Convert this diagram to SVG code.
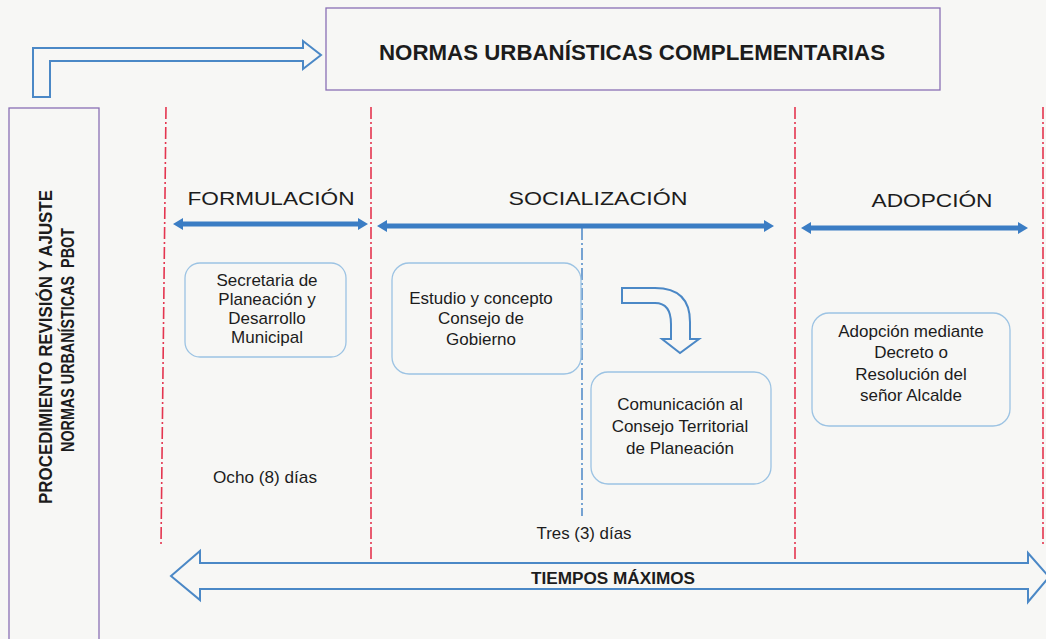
<svg xmlns="http://www.w3.org/2000/svg" width="1046" height="639" viewBox="0 0 1046 639">
<style>
.bg{fill:#f7f7f5}
.frame{fill:none;stroke:#8a70b4;stroke-width:1.3}
.box{fill:none;stroke:#9cc3e3;stroke-width:1.3}
.red{stroke:#e4354f;stroke-width:1.6;stroke-dasharray:12 3 2 3;fill:none}
.bdash{stroke:#3f7fc4;stroke-width:1.4;stroke-dasharray:12 3 2 3;fill:none}
.thick{fill:#3b7dc4}
.outl{fill:none;stroke:#4b88c6;stroke-width:2;stroke-linejoin:miter}
.t{font-family:"Liberation Sans",Arial,sans-serif;fill:#1c1c1c;text-anchor:middle}
.bx{font-size:17px}
.ph{font-size:18px}
.b{font-weight:bold}
</style>
<rect class="bg" x="0" y="0" width="1046" height="639"/>

<g id="title">
  <rect class="frame" x="326" y="8" width="614" height="82"/>
  <text class="t b" font-size="22" x="632" y="60" textLength="506" lengthAdjust="spacingAndGlyphs">NORMAS URBANÍSTICAS COMPLEMENTARIAS</text>
</g>

<g id="side-label">
  <rect class="frame" x="9" y="108" width="90" height="545"/>
  <text class="t b" font-size="19" transform="translate(52,347) rotate(-90) scale(0.89,1)">PROCEDIMIENTO REVISIÓN Y AJUSTE</text>
  <text class="t b" font-size="19" transform="translate(74,340) rotate(-90) scale(0.755,1)" xml:space="preserve">NORMAS URBANÍSTICAS  PBOT</text>
</g>

<g id="dividers">
  <line class="red" x1="166" y1="107" x2="161" y2="545"/>
  <line class="red" x1="371" y1="107" x2="371" y2="563"/>
  <line class="red" x1="795" y1="107" x2="795" y2="563"/>
  <line class="red" x1="1043" y1="107" x2="1043" y2="547"/>
  <line class="bdash" x1="582" y1="228" x2="582" y2="516"/>
</g>

<g id="phase-formulacion">
  <text class="t ph" x="271" y="205" textLength="167" lengthAdjust="spacingAndGlyphs">FORMULACIÓN</text>
</g>
<g id="phase-socializacion">
  <text class="t ph" x="598" y="205" textLength="179" lengthAdjust="spacingAndGlyphs">SOCIALIZACIÓN</text>
</g>
<g id="phase-adopcion">
  <text class="t ph" x="932" y="207" textLength="121" lengthAdjust="spacingAndGlyphs">ADOPCIÓN</text>
</g>

<g id="connectors">
  <path class="outl" d="M33,97 L33,48 L303,48 L303,41 L321,55 L303,69 L303,61 L50,61 L50,97 Z"/>
  <path class="thick" d="M173,224 L183,218 L183,221.5 L358,221.5 L358,218 L368,224 L358,230 L358,226.5 L183,226.5 L183,230 Z"/>
  <path class="thick" d="M377,226 L387,220 L387,223.5 L764,223.5 L764,220 L774,226 L764,232 L764,228.5 L387,228.5 L387,232 Z"/>
  <path class="thick" d="M801,228 L811,222 L811,225.5 L1018,225.5 L1018,222 L1028,228 L1018,234 L1018,230.5 L811,230.5 L811,234 Z"/>
  <path class="outl" d="M622,288 L655,288 Q690,288 690,322 L690,339 L699,339 L680,353 L662,339 L671,339 L671,324 Q671,303 655,303 L622,303 Z"/>
  <path class="outl" d="M171,576 L200,551 L200,563 L1028,563 L1028,553 L1049,577 L1028,602 L1028,589 L200,589 L200,600 Z"/>
</g>

<g id="node-secretaria">
  <rect class="box" x="185" y="263" width="161" height="94" rx="15"/>
  <text class="t bx" x="267" y="286">Secretaria de</text>
  <text class="t bx" x="267" y="305">Planeación y</text>
  <text class="t bx" x="267" y="324">Desarrollo</text>
  <text class="t bx" x="267" y="343">Municipal</text>
</g>

<g id="node-estudio">
  <rect class="box" x="392" y="263" width="189" height="111" rx="17"/>
  <text class="t bx" x="481" y="304">Estudio y concepto</text>
  <text class="t bx" x="481" y="324">Consejo de</text>
  <text class="t bx" x="481" y="345">Gobierno</text>
</g>

<g id="node-comunicacion">
  <rect class="box" x="591" y="372" width="180" height="112" rx="17"/>
  <text class="t bx" x="680" y="410">Comunicación al</text>
  <text class="t bx" x="680" y="432">Consejo Territorial</text>
  <text class="t bx" x="680" y="454">de Planeación</text>
</g>

<g id="node-adopcion">
  <rect class="box" x="812" y="313" width="198" height="113" rx="17"/>
  <text class="t bx" x="911" y="337">Adopción mediante</text>
  <text class="t bx" x="911" y="358">Decreto o</text>
  <text class="t bx" x="911" y="380">Resolución del</text>
  <text class="t bx" x="911" y="401">señor Alcalde</text>
</g>

<g id="times">
  <text class="t" font-size="17" x="265" y="483" textLength="104" lengthAdjust="spacingAndGlyphs">Ocho (8) días</text>
  <text class="t" font-size="17" x="584" y="539" textLength="95" lengthAdjust="spacingAndGlyphs">Tres (3) días</text>
  <text class="t b" font-size="16" x="613" y="584" textLength="164" lengthAdjust="spacingAndGlyphs">TIEMPOS MÁXIMOS</text>
</g>
</svg>
